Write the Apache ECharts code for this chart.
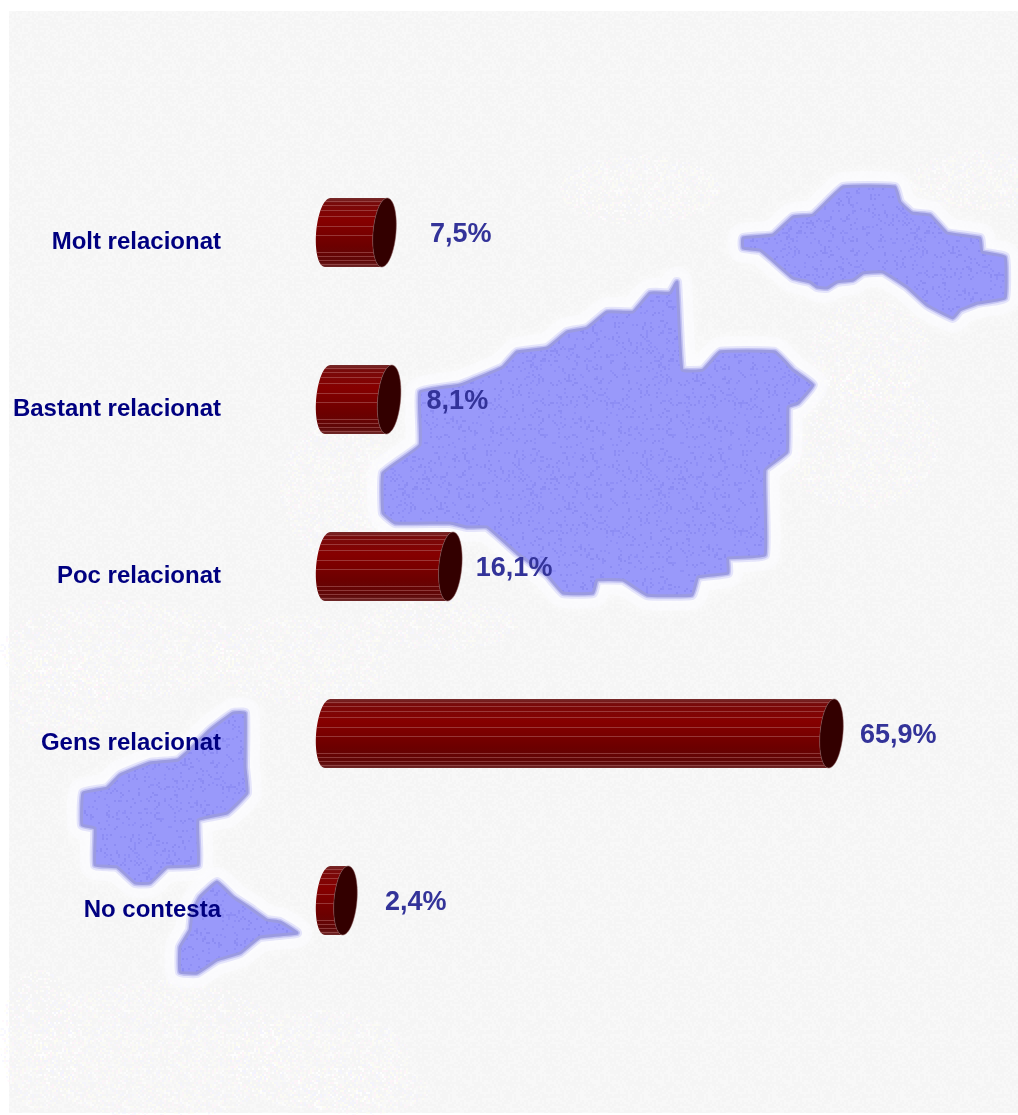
<!DOCTYPE html>
<html>
<head>
<meta charset="utf-8">
<style>html,body{margin:0;padding:0;background:#fff}#c{width:1018px;height:1115px}</style>
<script src="https://cdn.jsdelivr.net/npm/echarts@6/dist/echarts.min.js"></script>
</head>
<body>
<div id="c"></div>
<script>
const categories = ['Molt relacionat', 'Bastant relacionat', 'Poc relacionat', 'Gens relacionat', 'No contesta'];
const values = [7.5, 8.1, 16.1, 65.9, 2.4];
const valueLabels = ['7,5%', '8,1%', '16,1%', '65,9%', '2,4%'];
const labelGaps = [45, 37, 25, 28, 39];
const stripeOffsets = [0.05, 0.1, 0.18, 0.26, 0.4, 0.53, 0.78, 0.84, 0.9, 0.95];

// Decorative backdrop outlines (islands)
const mapMain = [[677,282],[682,370],[703,370],[720,352],[775,352],[793,370],[813,385],[798,403],[788,407],[787,452],[765,470],[765,555],[728,558],[728,573],[698,577],[692,595],[647,595],[623,580],[597,580],[593,593],[563,593],[547,575],[517,553],[487,527],[467,527],[450,523],[395,523],[383,513],[383,473],[420,445],[420,392],[460,385],[503,367],[517,352],[547,348],[567,332],[587,328],[607,312],[633,312],[650,293],[670,293]];
const mapRight = [[743,238],[773,235],[793,217],[813,215],[843,187],[895,187],[900,202],[912,213],[930,215],[947,233],[980,238],[982,252],[1005,257],[1005,298],[978,303],[960,310],[953,318],[927,305],[907,287],[883,272],[863,273],[853,280],[837,282],[827,288],[817,287],[810,282],[793,278],[770,258],[760,250],[743,248]];
const mapLeft = [[245,713],[233,713],[210,730],[197,743],[178,760],[150,763],[120,775],[107,788],[83,793],[82,825],[95,828],[95,865],[117,867],[135,883],[150,883],[167,867],[198,865],[198,820],[227,813],[247,793],[245,767]];
const mapSmall = [[217,882],[200,897],[192,913],[190,930],[180,947],[180,972],[197,973],[217,960],[240,953],[260,937],[297,933],[280,922],[267,920],[250,908],[233,897]];
const hazeSpots = [[640,190,80,35],[980,180,70,30],[120,650,120,50],[300,660,90,45],[160,1050,130,70],[320,1060,90,50],[40,1040,40,70],[340,490,60,70],[860,440,80,70],[440,625,80,25],[360,1090,70,25],[60,700,50,50],[870,350,60,50]];

function hash(a, b) {
  let h = (a * 374761393 + b * 668265263) | 0;
  h = Math.imul(h ^ (h >>> 13), 1274126177);
  return ((h ^ (h >>> 16)) >>> 0) / 4294967296;
}
function tile(size, base, dots, threshold, step) {
  const cv = document.createElement('canvas');
  cv.width = cv.height = size;
  const g = cv.getContext('2d');
  if (base) { g.fillStyle = base; g.fillRect(0, 0, size, size); }
  for (let y = 0; y < size; y += step) {
    for (let x = 0; x < size; x += step) {
      const r = hash(x + 3, y + 7);
      if (r < threshold) {
        g.fillStyle = dots[Math.floor(r / threshold * dots.length)];
        g.fillRect(x, y, step, step);
      }
    }
  }
  return cv;
}
const paperTile = { image: tile(64, '#f5f5f5', ['#f8f8f8'], 0.45, 2), repeat: 'repeat' };
const blueTile = { image: tile(128, '#9999fa', ['#8c8cf2', '#8f8ff6'], 0.14, 2), repeat: 'repeat' };
const speckTile = { image: tile(96, 'rgba(252,252,255,0.55)', ['#d9d9ff', '#f2d9ff', '#ffffff', '#ffffff'], 0.4, 2), repeat: 'repeat' };
const hazeTile = { image: tile(96, null, ['#ffffff', '#fdfdf0', '#f2f2ff', '#fff2fa'], 0.4, 2), repeat: 'repeat' };

function island(points) {
  const shape = { points, smooth: 0.1 };
  return [
    { type: 'polygon', z: 1, silent: true, shape,
      style: { fill: speckTile, stroke: 'rgba(252,252,255,0.55)', lineWidth: 30, lineJoin: 'round', shadowBlur: 16, shadowColor: 'rgba(255,255,255,0.9)' } },
    { type: 'polygon', z: 2, silent: true, shape,
      style: { fill: 'none', stroke: 'rgba(185,185,245,0.35)', lineWidth: 10, lineJoin: 'round' } },
    { type: 'polygon', z: 2, silent: true, shape,
      style: { fill: 'none', stroke: 'rgba(165,165,235,0.55)', lineWidth: 6, lineJoin: 'round' } },
    { type: 'polygon', z: 3, silent: true, shape,
      style: { fill: blueTile, stroke: '#9b9be0', lineWidth: 3, lineJoin: 'round' } }
  ];
}

const graphics = [
  { type: 'rect', z: 0, silent: true, shape: { x: 9, y: 11, width: 1009, height: 1102 }, style: { fill: paperTile } }
];
hazeSpots.forEach(s => graphics.push({
  type: 'ellipse', z: 1, silent: true, shape: { cx: s[0], cy: s[1], rx: s[2], ry: s[3] },
  style: { fill: hazeTile, opacity: 0.55 }
}));
[mapMain, mapRight, mapLeft, mapSmall].forEach(p => graphics.push(...island(p)));

const RX = 11.5, RY = 34.5, SHEAR = 2.7;
function edgeX(cx, s, rx) {
  return cx - rx * Math.sqrt(Math.max(0, 1 - s * s)) - SHEAR * s;
}
function rimPoints(cx, cy, from, to, n) {
  const pts = [];
  for (let i = 0; i <= n; i++) {
    const t = from + (to - from) * i / n;
    pts.push([cx - RX * Math.cos(t) - SHEAR * Math.sin(t), cy + RY * Math.sin(t)]);
  }
  return pts;
}
function renderBar(params, api) {
  const i = params.dataIndex;
  const v = api.value(0);
  const p0 = api.coord([0, i]);
  const p1 = api.coord([v, i]);
  const cx0 = p0[0], cx1 = p1[0] - 0.5, cy = p1[1] - 0.5;
  const H = Math.PI / 2;
  const bodyPts = rimPoints(cx0, cy, -H, H, 32).concat(rimPoints(cx1, cy, H, -H, 32));
  const children = [{
    type: 'polygon', shape: { points: bodyPts },
    style: {
      fill: { type: 'linear', x: 0, y: 0, x2: 0, y2: 1, colorStops: [
        { offset: 0, color: '#752a2a' }, { offset: 0.08, color: '#780a0a' }, { offset: 0.32, color: '#860000' },
        { offset: 0.7, color: '#6c0000' }, { offset: 0.92, color: '#5e0808' }, { offset: 1, color: '#6e2828' }] }
    }
  }];
  stripeOffsets.forEach(f => {
    const s = f * 2 - 1;
    const y = Math.round(cy + s * RY) + 0.5;
    children.push({
      type: 'line', shape: { x1: edgeX(cx0, s, RX), y1: y, x2: edgeX(cx1, s, RX), y2: y },
      style: { stroke: 'rgba(190,120,120,0.45)', lineWidth: 1 }
    });
  });
  children.push({
    type: 'polygon', shape: { points: rimPoints(cx1, cy, 0, Math.PI * 2, 64) },
    style: { fill: '#330000', stroke: '#8a5a5a', lineWidth: 0.5 }
  });
  children.push({
    type: 'text',
    style: { x: p1[0] + labelGaps[i], y: p1[1] + 1.5, text: valueLabels[i], fill: '#333399', textAlign: 'left', textVerticalAlign: 'middle',
      font: 'bold 27px "Liberation Sans", Arial, sans-serif' }
  });
  return { type: 'group', children };
}

const chart = echarts.init(document.getElementById('c'), null, { renderer: 'canvas', width: 1018, height: 1115 });
chart.setOption({
  animation: false,
  backgroundColor: '#ffffff',
  graphic: { elements: graphics },
  grid: { left: 327.6, top: 149.5, width: 612.3, height: 835, containLabel: false },
  xAxis: { type: 'value', min: 0, max: 80, show: false },
  yAxis: {
    type: 'category', data: categories, inverse: true, z: 20,
    axisLine: { show: false }, axisTick: { show: false }, splitLine: { show: false },
    axisLabel: { color: '#000080', fontFamily: '"Liberation Sans", Arial, sans-serif', fontWeight: 'bold', fontSize: 24, margin: 106.6, verticalAlign: 'top', lineHeight: 18 }
  },
  series: [{ type: 'custom', coordinateSystem: 'cartesian2d', clip: false, z: 10, encode: { x: 0, y: 1 },
    data: values.map((v, i) => [v, i]), renderItem: renderBar }]
});
</script>
</body>
</html>
